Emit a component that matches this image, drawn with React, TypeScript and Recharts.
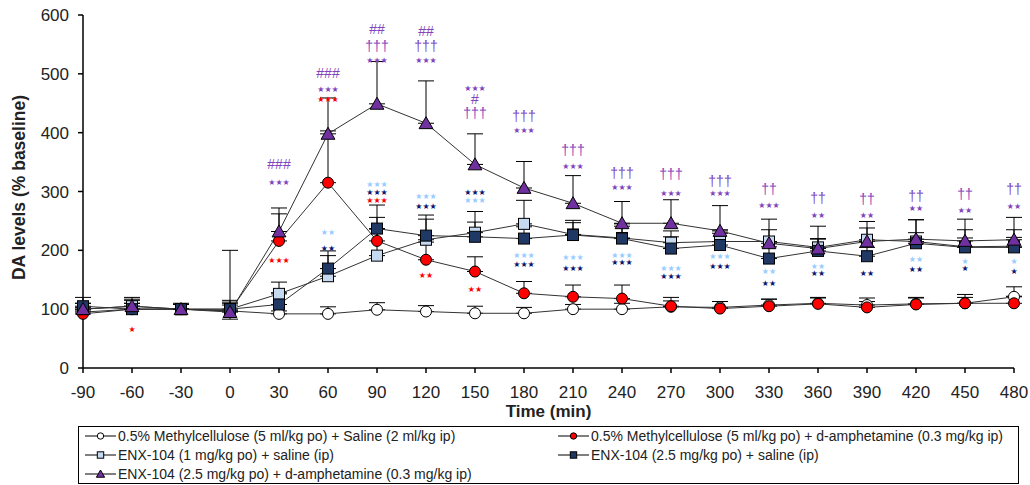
import React from "react";
import { ComposedChart, Line, Scatter, XAxis, YAxis, ErrorBar, Legend } from "recharts";

// sampling times (min)
const TIMES = [-90, -60, -30, 0, 30, 60, 90, 120, 150, 180, 210, 240, 270, 300, 330, 360, 390, 420, 450, 480];
const X_TICKS = TIMES;
const Y_TICKS = [0, 100, 200, 300, 400, 500, 600];

// DA levels (% baseline)
const METH_SALINE = [95, 100, 100, 97, 92, 92, 99, 96, 93, 93, 100, 100, 104, 103, 107, 110, 107, 109, 110, 121];
const METH_AMPH = [92, 100, 100, 97, 216, 315, 216, 184, 164, 127, 121, 118, 105, 101, 105, 109, 103, 108, 110, 110];
const ENX1_SALINE = [100, 105, 100, 100, 126, 156, 191, 218, 230, 245, 227, 221, 213, 215, 215, 205, 218, 215, 206, 207];
const ENX25_SALINE = [105, 100, 100, 100, 108, 169, 237, 225, 223, 220, 226, 220, 203, 209, 186, 199, 190, 212, 205, 205];
const ENX25_AMPH = [100, 105, 100, 95, 232, 398, 449, 416, 346, 306, 280, 246, 246, 233, 212, 203, 215, 219, 216, 218];

// upper error (SEM)
const METH_SALINE_ERR = [8, 10, 8, 10, 5, 12, 12, 10, 12, 10, 8, 10, 10, 10, 10, 10, 12, 10, 10, 17];
const METH_AMPH_ERR = [5, 15, 8, 15, 46, 88, 40, 30, 25, 20, 20, 23, 15, 12, 12, 10, 10, 12, 15, 12];
const ENX1_SALINE_ERR = [10, 12, 10, 15, 20, 35, 45, 35, 36, 40, 20, 20, 20, 20, 20, 15, 20, 15, 15, 15];
const ENX25_SALINE_ERR = [15, 10, 8, 100, 20, 30, 40, 35, 25, 20, 25, 25, 20, 20, 20, 20, 15, 40, 30, 30];
const ENX25_SALINE_ERR_LOW = [0, 0, 0, 17, 0, 0, 0, 0, 0, 0, 0, 0, 0, 0, 0, 0, 0, 0, 0, 0];
const ENX25_AMPH_ERR = [10, 15, 8, 15, 40, 61, 72, 72, 52, 45, 47, 37, 40, 43, 41, 38, 34, 33, 37, 38];

// significance marks [time, level, text]
const PURPLE_MARKS: [number, number, string][] = [
  [30, 346, "###"], [30, 315, "***"],
  [60, 501, "###"], [60, 474, "***"],
  [90, 577, "##"], [90, 548, "†††"], [90, 523, "***"],
  [120, 573, "##"], [120, 547, "†††"], [120, 523, "***"],
  [150, 475, "***"], [150, 457, "#"], [150, 433, "†††"],
  [180, 428, "†††"], [180, 404, "***"],
  [210, 370, "†††"], [210, 343, "***"],
  [240, 331, "†††"], [240, 307, "***"],
  [270, 329, "†††"], [270, 297, "***"],
  [300, 318, "†††"], [300, 297, "***"],
  [330, 305, "††"], [330, 277, "***"],
  [360, 289, "††"], [360, 260, "**"],
  [390, 288, "††"], [390, 260, "**"],
  [420, 292, "††"], [420, 271, "**"],
  [450, 295, "††"], [450, 267, "**"],
  [480, 305, "††"], [480, 274, "**"],
];
const RED_MARKS: [number, number, string][] = [
  [-60, 66, "*"], [30, 182, "***"], [60, 457, "***"], [90, 284, "***"], [120, 157, "**"], [150, 133, "**"],
];
const LIGHT_MARKS: [number, number, string][] = [
  [60, 231, "**"], [90, 312, "***"], [120, 291, "***"], [150, 284, "***"], [180, 191, "***"],
  [210, 188, "***"], [240, 192, "***"], [270, 169, "***"], [300, 189, "***"], [330, 164, "**"],
  [360, 173, "**"], [390, 219, "**"], [420, 184, "**"], [450, 181, "*"], [480, 181, "*"],
];
const NAVY_MARKS: [number, number, string][] = [
  [60, 203, "**"], [90, 299, "***"], [120, 274, "***"], [150, 299, "***"], [180, 176, "***"],
  [210, 169, "***"], [240, 180, "***"], [270, 156, "***"], [300, 172, "***"], [330, 143, "**"],
  [360, 160, "**"], [390, 160, "**"], [420, 168, "**"], [450, 169, "*"], [480, 164, "*"],
];

const PURPLE = "#7030a0";
const PURPLE_TEXT = "#8045bd";
const LIGHT = "#c5d9f1";
const LIGHT_TEXT = "#99ccff";
const NAVY = "#1f3864";
const NAVY_TEXT = "#0c1670";
const RED = "#ff0000";

const data = TIMES.map((t, i) => ({
  t,
  a: METH_SALINE[i],
  aErr: [0, METH_SALINE_ERR[i]],
  b: METH_AMPH[i],
  bErr: [0, METH_AMPH_ERR[i]],
  c: ENX1_SALINE[i],
  cErr: [0, ENX1_SALINE_ERR[i]],
  d: ENX25_SALINE[i],
  dErr: [ENX25_SALINE_ERR_LOW[i], ENX25_SALINE_ERR[i]],
  e: ENX25_AMPH[i],
  eErr: [0, ENX25_AMPH_ERR[i]],
}));

const toMarks = (list: [number, number, string][], color: string) =>
  list.map(([t, v, text]) => ({ t, v, text, color }));

const marks = [
  ...toMarks(PURPLE_MARKS, PURPLE_TEXT),
  ...toMarks(RED_MARKS, RED),
  ...toMarks(LIGHT_MARKS, LIGHT_TEXT),
  ...toMarks(NAVY_MARKS, NAVY_TEXT),
];

type Kind = "circle" | "square" | "triangle";

function marker(kind: Kind, x: number, y: number, fill: string, s: number, key?: string) {
  if (kind === "circle") return <circle key={key} cx={x} cy={y} r={s} fill={fill} stroke="#000" strokeWidth={1} />;
  if (kind === "square")
    return <rect key={key} x={x - s} y={y - s} width={s * 2} height={s * 2} fill={fill} stroke="#000" strokeWidth={1} />;
  return (
    <polygon
      key={key}
      points={`${x},${y - s * 1.1} ${x - s * 1.15},${y + s * 0.9} ${x + s * 1.15},${y + s * 0.9}`}
      fill={fill}
      stroke="#000"
      strokeWidth={1}
    />
  );
}

const dotFor = (kind: Kind, fill: string, s: number) => (p: any) =>
  p.cx == null ? <g key={p.key} /> : marker(kind, p.cx, p.cy, fill, s, p.key);

const SERIES = [
  { key: "a", name: "0.5% Methylcellulose (5 ml/kg po) + Saline (2 ml/kg ip)", kind: "circle" as Kind, fill: "#ffffff", size: 5.5 },
  { key: "b", name: "0.5% Methylcellulose (5 ml/kg po) + d-amphetamine (0.3 mg/kg ip)", kind: "circle" as Kind, fill: RED, size: 5.5 },
  { key: "c", name: "ENX-104 (1 mg/kg po) + saline (ip)", kind: "square" as Kind, fill: LIGHT, size: 5.5 },
  { key: "d", name: "ENX-104 (2.5 mg/kg po) + saline (ip)", kind: "square" as Kind, fill: NAVY, size: 5.5 },
  { key: "e", name: "ENX-104 (2.5 mg/kg po) + d-amphetamine (0.3 mg/kg ip)", kind: "triangle" as Kind, fill: PURPLE, size: 6 },
];

// legend cells: [series index, column, row]
const LEGEND_CELLS = [
  [0, 0, 0],
  [1, 1, 0],
  [2, 0, 1],
  [3, 1, 1],
  [4, 0, 2],
];

const MarkText = (p: any) => {
  if (p.cx == null) return <g />;
  const txt: string = p.payload.text;
  const isStar = txt.includes("*");
  return (
    <text
      x={p.cx}
      y={p.cy}
      textAnchor="middle"
      dominantBaseline="central"
      fill={p.payload.color}
      fontFamily={isStar ? "DejaVu Sans" : "Liberation Sans, Arial"}
      fontSize={isStar ? 8 : 14}
    >
      {isStar ? txt.replace(/\*/g, "★") : txt}
    </text>
  );
};

const LegendBox = () => (
  <svg width={941} height={58} style={{ display: "block" }}>
    <rect x={0.5} y={0.5} width={940} height={57} fill="#fff" stroke="#000" strokeWidth={1} />
    {LEGEND_CELLS.map(([si, col, row]) => {
      const s = SERIES[si];
      const x0 = col === 0 ? 7 : 480;
      const y = 10 + row * 19;
      return (
        <g key={s.key}>
          <line x1={x0} x2={x0 + 31} y1={y} y2={y} stroke="#000" strokeWidth={1} />
          {marker(s.kind, x0 + 15.5, y, s.fill, s.kind === "triangle" ? 3.6 : 3.2)}
          <text x={x0 + 33} y={y} dominantBaseline="central" fontSize={14} fontFamily="Liberation Sans, Arial" fill="#222">
            {s.name}
          </text>
        </g>
      );
    })}
  </svg>
);

const tickStyle = { fontSize: 17, fontFamily: "Liberation Sans, Arial", fill: "#222" };

export default function App() {
  return (
    <div style={{ position: "absolute", left: 0, top: 0, background: "#fff" }}>
      <ComposedChart width={1030} height={485} data={data} margin={{ top: 15, right: 16, left: 8, bottom: 67 }}>
        <XAxis
          dataKey="t"
          type="number"
          domain={[-90, 480]}
          ticks={X_TICKS}
          interval={0}
          stroke="#000"
          strokeWidth={1.5}
          tickSize={5}
          tickMargin={13}
          tick={tickStyle}
          height={50}
          label={{
            value: "Time (min)",
            position: "insideBottom",
            offset: 1,
            style: { fontSize: 17, fontWeight: "bold", fontFamily: "Liberation Sans, Arial", fill: "#222" },
          }}
        />
        <YAxis
          type="number"
          domain={[0, 600]}
          ticks={Y_TICKS}
          interval={0}
          stroke="#000"
          strokeWidth={1.5}
          tickSize={5}
          tickMargin={9}
          tick={tickStyle}
          width={75}
          label={{
            content: (p: any) => {
              const vb = p.viewBox || {};
              const cx = 19;
              const cy = (vb.y ?? 15) + (vb.height ?? 353) / 2 - 4;
              return (
                <text
                  x={cx}
                  y={cy}
                  transform={`rotate(-90, ${cx}, ${cy})`}
                  textAnchor="middle"
                  dominantBaseline="central"
                  fontSize={17.5}
                  fontWeight="bold"
                  fontFamily="Liberation Sans, Arial"
                  fill="#222"
                >
                  DA levels (% baseline)
                </text>
              );
            },
          }}
        />
        {SERIES.map((s) => (
          <Line
            key={s.key}
            dataKey={s.key}
            name={s.name}
            stroke="#333"
            strokeWidth={1}
            isAnimationActive={false}
            dot={dotFor(s.kind, s.fill, s.size)}
            activeDot={false}
          >
            <ErrorBar dataKey={`${s.key}Err`} direction="y" width={8} stroke="#000" strokeWidth={1} />
          </Line>
        ))}
        <Scatter data={marks} dataKey="v" isAnimationActive={false} shape={MarkText} legendType="none" />
        <Legend
          layout="horizontal"
          verticalAlign="middle"
          align="center"
          wrapperStyle={{ left: 78, top: 426, width: 941, height: 58 }}
          content={() => <LegendBox />}
        />
      </ComposedChart>
    </div>
  );
}
